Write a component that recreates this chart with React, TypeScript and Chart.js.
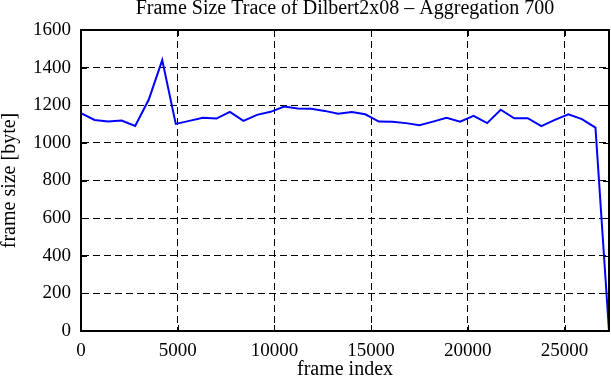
import React, { useEffect, useRef } from "react";
import { Chart, registerables } from "chart.js";

Chart.register(...registerables);

const frameIndex: number[] = [
  0, 700, 1400, 2100, 2800, 3500, 4200, 4900, 5600, 6300,
  7000, 7700, 8400, 9100, 9800, 10500, 11200, 11900, 12600, 13300,
  14000, 14700, 15400, 16100, 16800, 17500, 18200, 18900, 19600, 20300,
  21000, 21700, 22400, 23100, 23800, 24500, 25200, 25900, 26600, 27300,
];

const frameSize: number[] = [
  1158, 1122, 1113, 1119, 1090, 1229, 1440, 1101, 1117, 1133,
  1129, 1165, 1117, 1149, 1165, 1193, 1183, 1181, 1170, 1155,
  1164, 1152, 1113, 1112, 1105, 1094, 1113, 1133, 1113, 1144,
  1105, 1176, 1131, 1131, 1089, 1122, 1152, 1126, 1081, 0,
];

const xTickValues: number[] = [0, 5000, 10000, 15000, 20000, 25000];
const yTickValues: number[] = [0, 200, 400, 600, 800, 1000, 1200, 1400, 1600];

const titleText = "Frame Size Trace of Dilbert2x08 \u2013 Aggregation 700";
const xTitle = "frame index";
const yTitle = "frame size [byte]";
const xMin = 0;
const xMax = 27300;
const yMin = 0;
const yMax = 1600;

const FONT = "'Liberation Serif', 'Times New Roman', serif";

const frameAndTicks = {
  id: "frameAndTicks",
  afterDraw(chart: any) {
    const { ctx, chartArea, scales } = chart;
    const { left, right, top, bottom } = chartArea;
    const xs = scales.x;
    const ys = scales.y;
    const len = 6;
    ctx.save();
    ctx.strokeStyle = "#000";
    ctx.lineWidth = 1;
    ctx.setLineDash([]);
    ctx.beginPath();
    xs.ticks.forEach((t: any) => {
      const px = Math.round(xs.getPixelForValue(t.value)) + 0.5;
      ctx.moveTo(px, bottom);
      ctx.lineTo(px, bottom - len);
      ctx.moveTo(px, top);
      ctx.lineTo(px, top + len);
    });
    ys.ticks.forEach((t: any) => {
      const py = Math.round(ys.getPixelForValue(t.value)) + 0.5;
      ctx.moveTo(left, py);
      ctx.lineTo(left + len, py);
      ctx.moveTo(right, py);
      ctx.lineTo(right - len, py);
    });
    ctx.stroke();
    ctx.lineWidth = 2;
    ctx.strokeRect(left, top, right - left, bottom - top);
    // title centred over the plot area
    ctx.fillStyle = "#000";
    ctx.font = `20px ${FONT}`;
    ctx.textAlign = "center";
    ctx.textBaseline = "alphabetic";
    ctx.fillText(titleText, (left + right) / 2, 14);
    ctx.restore();
  },
};

export default function App() {
  const canvasRef = useRef<HTMLCanvasElement | null>(null);

  useEffect(() => {
    if (!canvasRef.current) return;
    const points = frameIndex.map((x, i) => ({ x, y: frameSize[i] }));
    const chart = new Chart(canvasRef.current, {
      type: "line",
      data: {
        datasets: [
          {
            data: points,
            borderColor: "#0000ff",
            backgroundColor: "#0000ff",
            borderWidth: 2,
            pointRadius: 0,
            tension: 0,
            fill: false,
          },
        ],
      },
      options: {
        responsive: false,
        animation: false,
        layout: { padding: { left: 0, right: 2, top: 30, bottom: 0 } },
        plugins: {
          legend: { display: false },
          tooltip: { enabled: false },
          title: { display: false },
        },
        scales: {
          x: {
            type: "linear",
            min: xMin,
            max: xMax,
            afterBuildTicks: (s: any) => {
              s.ticks = xTickValues.map((v) => ({ value: v }));
            },
            afterFit: (s: any) => {
              s.height = 49;
              s.paddingLeft = 0;
              s.paddingRight = 0;
            },
            ticks: {
              color: "#000",
              font: { family: FONT, size: 19 },
              padding: 9,
              maxRotation: 0,
              autoSkip: false,
              callback: (v: any) => String(v),
            },
            grid: {
              color: "#000",
              lineWidth: 1,
              drawTicks: false,
            },
            border: { display: true, color: "#000", width: 2, dash: [7, 4] },
            title: {
              display: true,
              text: xTitle,
              color: "#000",
              font: { family: FONT, size: 20, lineHeight: 1 },
              padding: { top: 0, bottom: 0 },
            },
          },
          y: {
            type: "linear",
            min: yMin,
            max: yMax,
            afterBuildTicks: (s: any) => {
              s.ticks = yTickValues.map((v) => ({ value: v }));
            },
            afterFit: (s: any) => {
              s.width = 81;
              s.paddingTop = 0;
              s.paddingBottom = 0;
            },
            ticks: {
              color: "#000",
              font: { family: FONT, size: 19 },
              padding: 10,
              autoSkip: false,
              callback: (v: any) => String(v),
            },
            grid: {
              color: "#000",
              lineWidth: 1,
              drawTicks: false,
            },
            border: { display: true, color: "#000", width: 2, dash: [7, 4] },
            title: {
              display: true,
              text: yTitle,
              color: "#000",
              font: { family: FONT, size: 20, lineHeight: 1 },
              padding: { top: 0, bottom: 0 },
            },
          },
        },
      },
      plugins: [frameAndTicks],
    } as any);
    return () => chart.destroy();
  }, []);

  return (
    <div style={{ position: "fixed", left: 0, top: 0, width: 611, height: 380, background: "#fff" }}>
      <canvas ref={canvasRef} width={611} height={380} style={{ display: "block" }} />
    </div>
  );
}
